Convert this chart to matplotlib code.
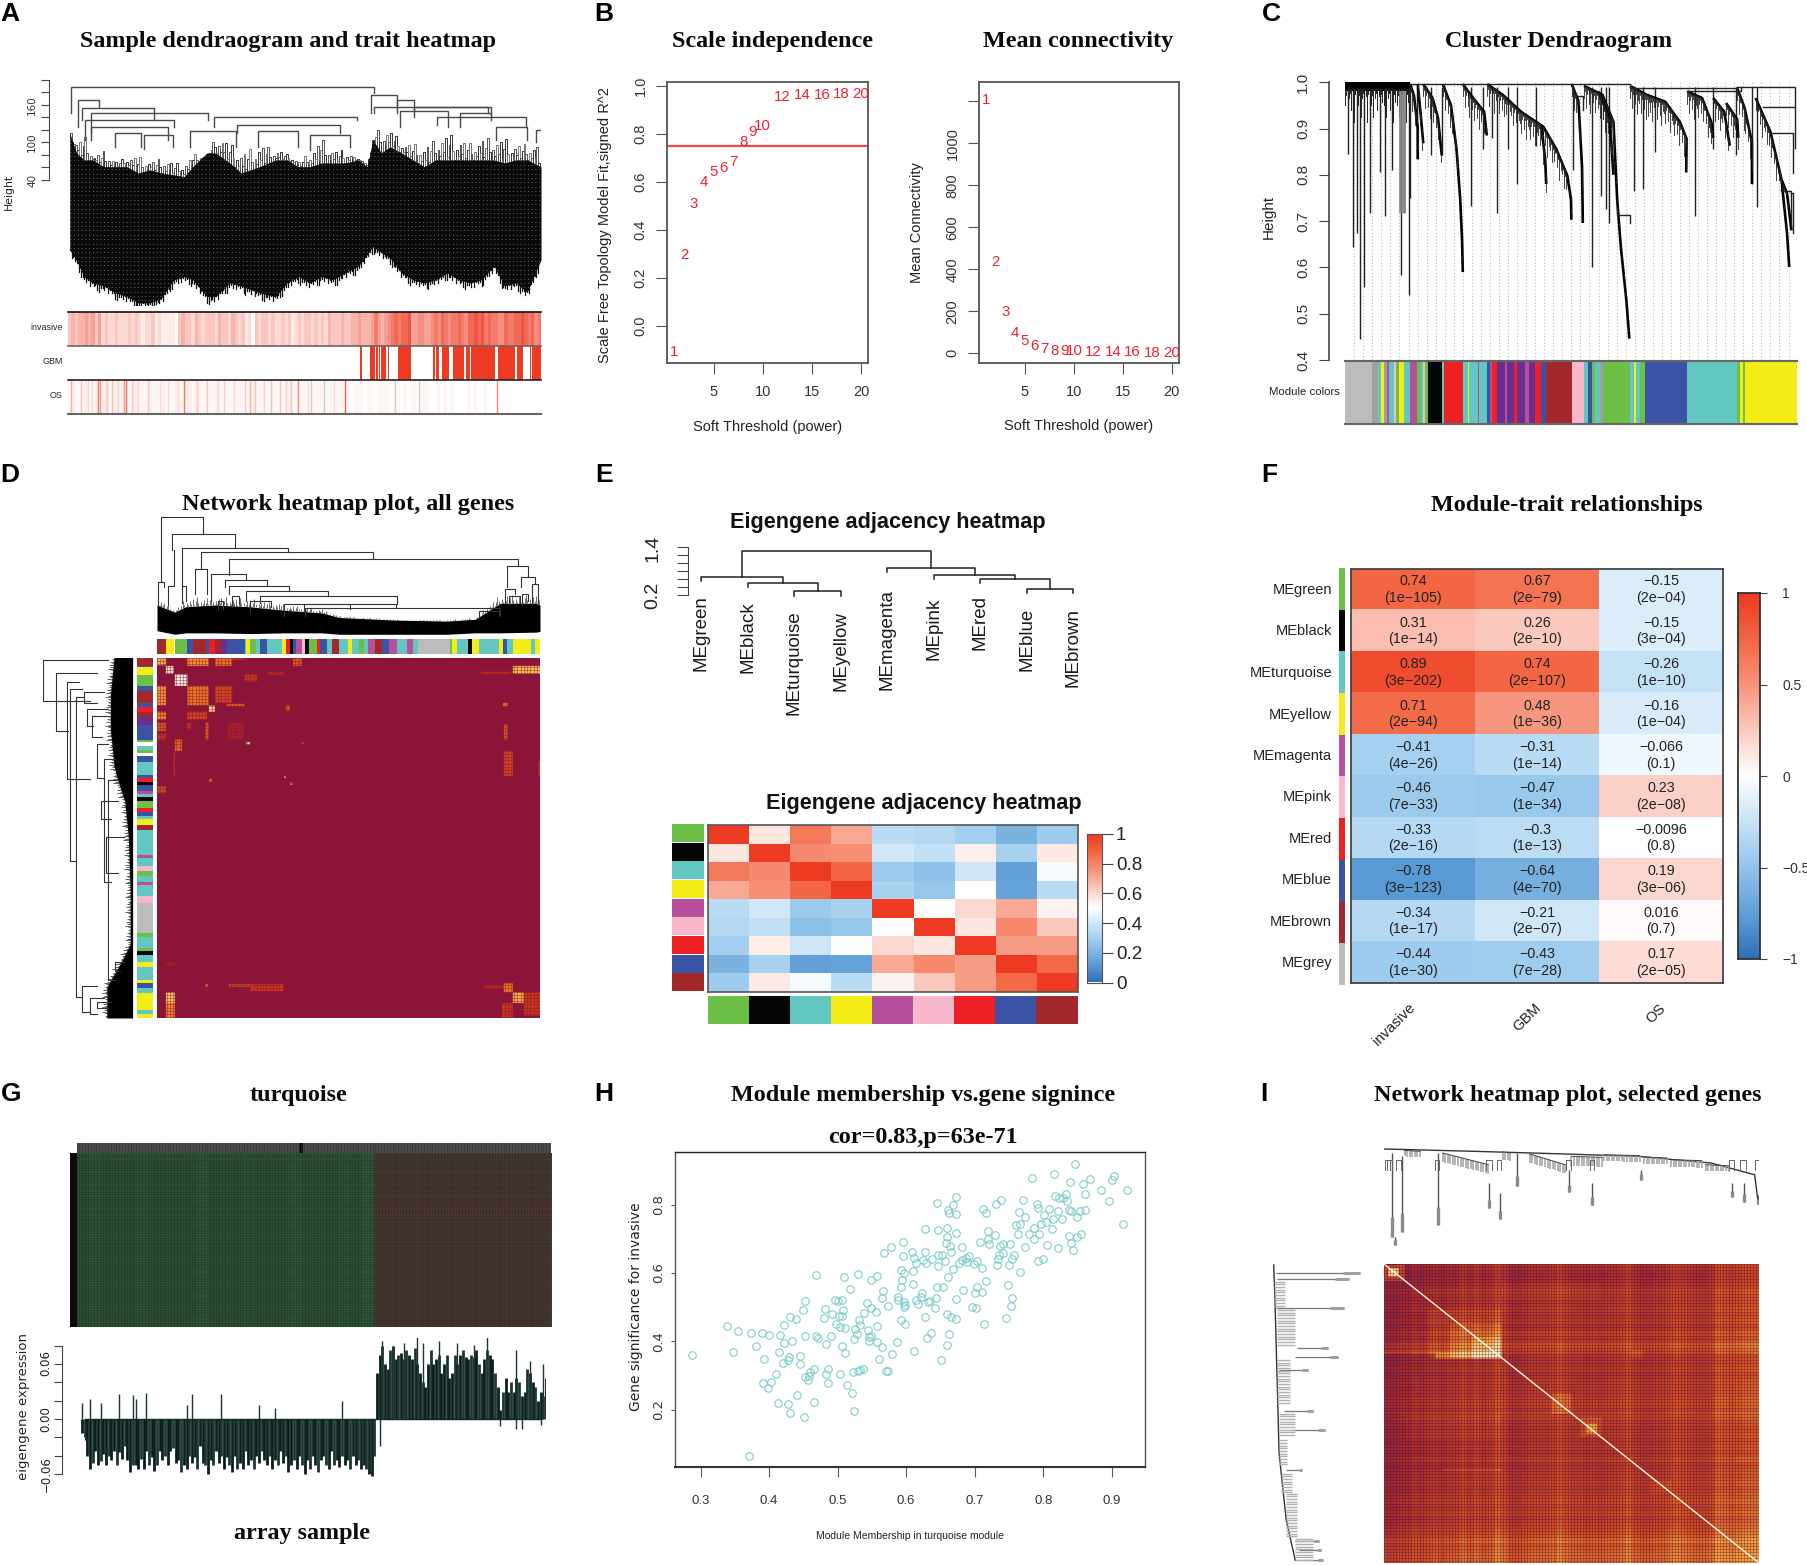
import numpy as np
import matplotlib
matplotlib.use("Agg")
import matplotlib.pyplot as plt
from matplotlib.colors import LinearSegmentedColormap as LSC
from matplotlib.patches import Rectangle

W, H = 1808, 1565
SANS = 'Liberation Sans'
SERIF = 'Liberation Serif'
WIDE = 'DejaVu Sans'
plt.rcParams['font.family'] = SANS
fig = plt.figure(figsize=(W/100, H/100), dpi=100, facecolor='white')

MOD = dict(g='#6cbf47', k='#050505', t='#62c6c1', y='#f4ec16', m='#b7509c', p='#f8b8cc',
           r='#ee2024', b='#3a53a4', n='#a3282b', e='#bcbcbc', d='#a0a0a0', u='#6a2d90', w='#ffffff')
ME = ['MEgreen','MEblack','MEturquoise','MEyellow','MEmagenta','MEpink','MEred','MEblue','MEbrown','MEgrey']
ME_KEY = list('gktymprbne')
BWR = LSC.from_list('bwr', [(0,'#2f6fb8'),(.11,'#5b9bd5'),(.275,'#9dccee'),(.425,'#ddeefb'),(.5,'#ffffff'),
                            (.615,'#fbd0c6'),(.74,'#f8977f'),(.87,'#f36744'),(1,'#ee3a22')])
STRIP = LSC.from_list('st', ['#ffffff', '#ee3a22'])
DGREY = '#444444'
CYCLE = [.0,.35,.15,.55,.25,.7,.1,.45,.8,.3]

def A(x0, y0, x1, y1, off=False):
    ax = fig.add_axes([x0/W, 1-y1/H, (x1-x0)/W, (y1-y0)/H])
    if off:
        ax.axis('off')
    return ax

def T(x, y, s, size=10.5, fam=SANS, weight='normal', rot=0, ha='center', va='center', color='#222222', **kw):
    return fig.text(x/W, 1-y/H, s, fontsize=size, family=fam, weight=weight, rotation=rot, ha=ha, va=va,
                    color=color, rotation_mode='anchor', **kw)

def title(x, y, s, size=17.4):
    T(x, y+1.5, s, size=size, fam=SERIF, weight='bold', color='#0a0a0a')

for s, x, y in [('A',10,14),('B',604,14),('C',1271,14),('D',10,475),('E',604,475),('F',1269,475),
                ('G',11,1094),('H',604,1094),('I',1264,1094)]:
    T(x, y, s, size=19, weight='bold', color='black')

# ---------------------------------------------------------------- A
A_merges = [(2,532,189,147,179),(15,52,168,125,157),(22,147,155,136,136),(37,242,147,115,136),(27,182,136,104,125),
            (252,502,141,125,136),(37,172,125,104,104),(292,472,128,115,115),(532,732,157,147,147),(527,572,175,147,160),
            (572,602,168,147,150),(602,737,157,140,140),(642,797,141,128,125),(682,737,147,125,136),(577,662,150,125,125),
            (80,125,115,93,93),(130,180,112,90,93),(210,290,118,93,93),(330,400,118,93,93),(420,490,112,88,93),(745,800,125,104,104),(825,815,120,100,100)]
A_sample = [0,12,25,40,60,80,100,120,140,160,182,200,215,240,255,280,300,332,360,380,400,420,440,460,482,505,520,530,
            545,560,580,600,620,640,660,680,700,720,742,760,780,800,824]
A_arch_top = [83,104,120,78,93,72,83,83,72,83,72,72,88,72,125,104,93,104,93,83,72,93,115,93,93,72,72,115,
              136,125,104,104,104,115,125,115,104,115,115,115,104,104,104]
A_mass_top = [115,83,72,72,61,61,61,51,56,51,48,45,61,83,83,67,51,61,72,72,61,61,67,67,67,72,61,104,
              83,93,83,72,61,72,72,72,72,72,72,67,72,72,61]
A_mass_bot = [-72,-90,-115,-125,-130,-141,-147,-157,-157,-150,-120,-115,-120,-147,-147,-125,-130,-141,-147,-125,-115,-125,-115,-120,-109,-98,-80,-67,
              -77,-85,-109,-120,-125,-120,-109,-120,-125,-120,-98,-130,-125,-140,-88]
ax = A(68, 78, 541, 306)
ax.set_xlim(-3, 824); ax.set_ylim(-162, 203)
mass = ax.fill_between(A_sample, A_mass_bot, A_mass_top, color='#0a0a0a', lw=0, zorder=2)
mp = mass.get_paths()[0]
for hv in np.arange(-160, 120, 7):
    ln, = ax.plot([0, 824], [hv, hv], color='white', lw=.6, ls=(0, (1, 3.5)), alpha=.5, zorder=2.5)
    ln.set_clip_path(mp, ax.transData)
gx = np.arange(0, 824, 3.2)
gt = np.interp(gx, A_sample, A_mass_top); ga = np.interp(gx, A_sample, A_arch_top); gb = np.interp(gx, A_sample, A_mass_bot)
for k in range(len(gx)-1):
    f = CYCLE[k % 10]
    tp = gt[k]+(ga[k]-gt[k])*f
    ax.plot([gx[k], gx[k], gx[k+1], gx[k+1]], [gt[k]-6, tp, tp, gt[k+1]-6], color=['#555555','#333333','#777777'][k % 3], lw=.7, zorder=1)
    ax.plot([gx[k], gx[k]], [gb[k]+2, gb[k]-14*CYCLE[(k*3) % 10]], color='#111111', lw=.9, zorder=1)
for xl, xr, h, hl, hr in A_merges:
    ax.plot([xl, xl, xr, xr], [hl, h, h, hr], color='#4a4a4a', lw=1.0, zorder=3)
for s in ['top','right','bottom']:
    ax.spines[s].set_visible(False)
ax.spines['left'].set_position(('outward', 13.7)); ax.spines['left'].set_bounds(40, 200); ax.spines['left'].set_color(DGREY)
ax.set_xticks([]); ax.set_yticks(np.arange(40, 201, 20), [''] * 9)
ax.tick_params(axis='y', length=6, color=DGREY)
for v in [40, 100, 160]:
    T(32, 180-(v-40)*.625, str(v), size=7.5, fam=WIDE, rot=90, color='#333333')
T(9, 192, 'Height', size=7.8, fam=WIDE, rot=90)
inv_lv = [3,4,3,4,4,5,4,5,3,5, 2,3,2,2,3,2,2,2,3,2,3,2,1,2,2,3,1,2,1,1,1,1,0, 3,4,3,3,2,4,3,2,3,3,3,2,4,
          3,3,2,4,3,2,3,1,2,0,3,2,3,3,2,3,2, 2,3,2,3,1,2,3,2,3,3,2,3,2,3,2,4,3,3,3,4,3,
          3,4,4,5,4,4,4,5,7,5,4,5,6,7, 8,7,8,8,9,5,5,6,6,5,5,6, 7,6,8,7,6,7,7,8,7,6,8,8,9,8,9,7,8,7,
          7,6,6,8,7,7,8,8,9,8,7,8,6,7]
gbm_on = [(840,842),(878,882),(908,923),(926,930),(933,936),(941,955),(961,963),(991,1031),(1098,1102),(1106,1116),(1125,1146),
          (1158,1191),(1195,1208),(1211,1283),(1291,1343),(1350,1366),(1378,1380),(1388,1390),(1394,1421)]
os_lv = [1,2,1,1,1,2,1,1,2,2,2,3,1,2,2,1,2,2,1,2,2,1,1,1,2,1,1,1,2,1,1,1,2,1,1,2,2,1,2,1,1,1,1,1,2,1,1,1,1,1,1,1,1,1,1,
         2,1,1,2,1,1,1,1,1,1,1,2,1,1,1,1,1,1,1,1,1,1,1,1,1,1,1,1,1,0,1,1,1,0,1,1,0,1,1,1,1,0,1,1,0,1,0,1,1,0,1,1,1,0,0,1,0,1,0,1,0,0,0,0,1,0,
         1,0,0,1,0,0,0,0,0,0,0,0,0,0,0,0,0,0,0,0]
os_spike_x = [8,40,91,95,118,131,168,175,193,240,348,388,418,533,548,563,638,671,691,831,1290,60,72,150,210,275,300,330,450,470,500,590,610,655,720,800]
os_spike_v = [.4,.3,.7,.5,.3,.3,.5,.7,.3,.3,.7,.3,.3,.3,.4,.3,.3,.3,.6,.8,.6,.2,.2,.25,.2,.2,.2,.2,.2,.25,.2,.2,.2,.25,.2,.2]
os_grey_x = [610,730,768,981,1053]
ax = A(68, 312, 541, 346, off=True)
ax.imshow(np.array(inv_lv)[None, :]/10.5, cmap=STRIP, vmin=0, vmax=1, aspect='auto', interpolation='nearest')
ax = A(68, 346, 541, 380, off=True)
ax.set_xlim(0, 1421); ax.set_ylim(0, 1)
ax.broken_barh([(a, b-a) for a, b in gbm_on], (0, 1), color='#ee3a22', lw=0)
ax = A(68, 380, 541, 414, off=True)
ax.imshow(np.array(os_lv)[None, :]/22, cmap=STRIP, vmin=0, vmax=1, aspect='auto', interpolation='nearest',
          extent=(0, 1421, 0, 1))
ax.vlines(os_spike_x, 0, 1, colors=[STRIP(v) for v in os_spike_v], lw=1)
ax.vlines(os_grey_x, 0, 1, colors='#cfcfcf', lw=1)
ax.set_xlim(0, 1421); ax.set_ylim(0, 1)
for y0, lc, lw in [(312,'#111111',1.2),(346,'#666666',1.2),(380,'#222222',1.2),(414,'#666666',1.5)]:
    fig.add_artist(plt.Line2D([68/W, 541/W], [1-y0/H]*2, color=lc, lw=lw))
for y, s in [(328,'invasive'),(362,'GBM'),(396,'OS')]:
    T(63, y, s, size=6.4, ha='right')
title(288, 40, 'Sample dendraogram and trait heatmap')

# ---------------------------------------------------------------- B
powers = [1,2,3,4,5,6,7,8,9,10,12,14,16,18,20]
sft_r2 = [-.11,.296,.508,.597,.639,.657,.684,.765,.805,.83,.951,.96,.96,.967,.967]
mean_k = [1207,436,196,96,57,34,20,12,12,9,5,4,4,3,3]

def rbox(ax):
    for s in ax.spines.values():
        s.set_color('#555555'); s.set_linewidth(1.3)
    ax.tick_params(length=8, color='#555555', labelsize=10.5, labelcolor='#333333', pad=7.5)
    ax.tick_params(axis='y', labelrotation=90, pad=6)
    for l in ax.get_yticklabels():
        l.set_va('center')

ax = A(667, 82, 868, 363)
ax.set_xlim(.26, 20.7); ax.set_ylim(-.154, 1.015)
ax.set_xticks([5,10,15,20]); ax.set_yticks([0,.2,.4,.6,.8,1], ['0.0','0.2','0.4','0.6','0.8','1.0'])
rbox(ax)
ax.axhline(.75, color='#f04a4a', lw=1.6)
for p, v in zip(powers, sft_r2):
    ax.text(p, v, str(p), color='#ee2030', fontsize=10.8, ha='center', va='center')
T(605, 225, 'Scale Free Topology Model Fit,signed R^2', size=10.5, rot=90)
T(768, 427, 'Soft Threshold (power)')
title(773, 40, 'Scale independence')

ax = A(979, 82, 1179, 363)
ax.set_xlim(.3, 20.75); ax.set_ylim(-46, 1292)
ax.set_xticks([5,10,15,20]); ax.set_yticks([0,200,400,600,800,1000,1200], ['0','200','400','600','800','1000',''])
rbox(ax)
for p, v in zip(powers, mean_k):
    ax.text(p, v, str(p), color='#ee2030', fontsize=10.8, ha='center', va='center')
T(917, 223, 'Mean Connectivity', rot=90)
T(1079, 426, 'Soft Threshold (power)')
title(1078, 40, 'Mean connectivity')

# ---------------------------------------------------------------- C
C_curves = [
 [(490,.996),(500,.97),(510,.90),(510,.834)], [(510,.996),(518,.93),(525,.868)],
 [(525,.996),(550,.966),(565,.922),(575,.842)],
 [(578,.996),(600,.95),(615,.856),(625,.747),(630,.659),(632,.59)],
 [(632,.996),(660,.966),(690,.936),(697,.885)],
 [(698,.996),(740,.973),(790,.936),(850,.904),(885,.856),(915,.798),(925,.747),(926,.703)],
 [(845,.904),(855,.834),(858,.78)], [(927,.996),(945,.96),(955,.816),(957,.696)],
 [(960,.992),(1010,.973),(1040,.914),(1050,.747),(1060,.644),(1075,.528),(1083,.446)],
 [(1000,.98),(1030,.92),(1040,.80)],
 [(1085,.992),(1130,.973),(1180,.958),(1220,.914),(1238,.878),(1237,.805)],
 [(1240,.98),(1280,.966),(1305,.914),(1310,.88)], [(1310,.966),(1340,.936),(1355,.863)],
 [(1345,.955),(1375,.92),(1378,.88)], [(1375,.987),(1395,.945),(1415,.87),(1415,.78)],
 [(1425,.966),(1465,.893),(1495,.79),(1510,.674),(1516,.601)], [(1495,.79),(1510,.76),(1522,.68)]]
C_fringe_len = [.035,.012,.06,.02,.008,.045,.015,.07,.01,.028]
C_drop_x = [320,335,345,354,365,382,407,422,440,466,472,485,490,508,547,575,655,686,725,778,712,755,830,930,982,1005,1020,1028,1095,1120,1153,1260,1310,1372,1415,1430]
C_drop_h = [.846,.644,.674,.446,.558,.717,.806,.71,.81,.583,.717,.54,.75,.834,.842,.842,.733,.856,.717,.78,.88,.856,.862,.81,.601,.755,.727,.696,.765,.77,.85,.71,.855,.842,.78,.73]
C_conn = [(490,1085,.996,.996,.996),(1085,1375,.987,.99,.99),(1240,1385,.98,.98,.99),(1445,1532,.947,.947,.857),(1470,1525,.89,.89,.805),
          (1050,1085,.714,.73,.696),(1375,1532,.99,.99,.947),(1495,1520,.765,.77,.69),(1520,1525,.76,.76,.675),(940,958,.97,.97,.94)]
C_seg = [(313,385,'e'),(385,402,'d'),(402,410,'t'),(410,418,'y'),(418,426,'d'),(426,432,'m'),(432,445,'t'),(445,452,'p'),(452,460,'g'),(460,472,'y'),(472,490,'t'),
         (490,508,'m'),(508,518,'g'),(518,524,'t'),(524,530,'p'),(530,537,'g'),(537,577,'k'),(577,582,'t'),(582,632,'r'),
         (632,645,'t'),(645,650,'y'),(650,672,'t'),(672,677,'m'),(677,698,'t'),(698,705,'b'),(705,712,'m'),(712,725,'r'),(725,745,'u'),(745,752,'m'),(752,770,'u'),(770,780,'r'),
         (780,800,'u'),(800,812,'m'),(812,828,'u'),(828,845,'r'),(845,858,'b'),(858,927,'n'),(927,960,'p'),(960,972,'t'),(972,982,'b'),(982,990,'g'),(990,1004,'t'),(1004,1012,'d'),
         (1012,1085,'g'),(1085,1095,'t'),(1095,1102,'y'),(1102,1112,'t'),(1112,1126,'g'),(1126,1240,'b'),(1240,1375,'t'),(1375,1383,'g'),(1383,1390,'y'),(1390,1397,'g'),(1397,1537,'y')]
ax = A(1345, 79, 1797, 360)
ax.set_xlim(313, 1537); ax.set_ylim(.4, 1.007)
ax.vlines(np.arange(338, 1537, 24.5), .4, 1, color='#bbbbbb', lw=.8, linestyles=(0, (1, 2)), zorder=0)
ax.fill_between([313, 490], .981, 1, color='black', lw=0)
for i, xx in enumerate(np.arange(313, 490, 3.5)):
    ax.plot([xx, xx], [.985, .985-C_fringe_len[i % 10]], color='#222222', lw=.7)
ax.vlines(C_drop_x, C_drop_h, .99, color='#222222', lw=1.0)
ax.vlines([463, 466, 469, 472, 475], .717, .98, color='#888888', lw=1.2)
for c in C_curves:
    xs, hs = zip(*c)
    ax.plot(xs, hs, color='black', lw=1.9, solid_capstyle='butt')
    for k in range(len(xs)-1):
        n = max(2, int(abs(xs[k+1]-xs[k])/2.5))
        for j in range(n):
            f = j/n
            xx = xs[k]+(xs[k+1]-xs[k])*f
            yy = hs[k]+(hs[k+1]-hs[k])*f
            ax.plot([xx, xx], [yy, yy-C_fringe_len[(j+k) % 10]*(.75 if yy > .8 else .15)], color='#222222', lw=.6)
for xl, xr, h, hl, hr in C_conn:
    ax.plot([xl, xl, xr, xr], [hl, h, h, hr], color='#222222', lw=1.0)
ax.set_xticks([]); ax.set_yticks(np.arange(.4, 1.01, .1), ['0.4','0.5','0.6','0.7','0.8','0.9','1.0'])
for s in ['top','right','bottom']:
    ax.spines[s].set_visible(False)
ax.spines['left'].set_position(('outward', 11.5)); ax.spines['left'].set_bounds(.4, 1); ax.spines['left'].set_color(DGREY)
ax.spines['left'].set_linewidth(1.2)
ax.tick_params(axis='y', length=7, color=DGREY, labelsize=11, labelrotation=90, labelcolor='#333333', pad=6.5)
for l in ax.get_yticklabels():
    l.set_va('center')
T(1269, 217, 'Height', size=11, rot=90)
ax = A(1345, 361, 1797, 424, off=True)
ax.set_xlim(313, 1537); ax.set_ylim(0, 1)
for a, b, k in C_seg:
    ax.add_patch(Rectangle((a, 0), b-a, 1, color=MOD[k], lw=0))
fig.add_artist(plt.Line2D([1345/W, 1797/W], [1-361/H]*2, color='#666666', lw=1.5))
fig.add_artist(plt.Line2D([1345/W, 1797/W], [1-424/H]*2, color='#666666', lw=1.5))
T(1340, 392, 'Module colors', size=8.2, ha='right')
title(1559, 40, 'Cluster Dendraogram')

# ---------------------------------------------------------------- D
D_top_seg = [(440,465,'n'),(465,487,'y'),(487,490,'w'),(490,525,'g'),(525,540,'b'),(540,577,'n'),(577,585,'b'),(585,602,'r'),(602,620,'n'),(620,637,'u'),(637,685,'b'),(685,690,'t'),
 (690,700,'y'),(700,718,'g'),(718,728,'t'),(728,747,'b'),(747,790,'t'),(790,800,'y'),(800,812,'r'),(812,820,'k'),(820,830,'b'),(830,845,'m'),(845,855,'p'),(855,865,'k'),(865,888,'g'),
 (888,897,'r'),(897,915,'b'),(915,928,'t'),(928,950,'n'),(950,975,'t'),(975,985,'y'),(985,1005,'t'),(1005,1020,'g'),(1020,1030,'t'),(1030,1050,'m'),(1050,1070,'n'),(1070,1090,'b'),
 (1090,1110,'m'),(1110,1140,'t'),(1140,1155,'m'),(1155,1170,'t'),(1170,1258,'e'),(1258,1265,'g'),(1265,1280,'y'),(1280,1310,'t'),(1310,1320,'k'),(1320,1340,'y'),(1340,1395,'t'),
 (1395,1408,'y'),(1408,1420,'b'),(1420,1435,'t'),(1435,1487,'y'),(1487,1497,'t'),(1497,1511,'y')]
D_left_seg = [(497,520,'n'),(520,525,'b'),(525,545,'y'),(545,578,'g'),(578,592,'b'),(592,625,'n'),(625,635,'b'),(635,650,'r'),(650,665,'n'),(665,685,'u'),(685,728,'b'),(728,735,'g'),
 (735,745,'w'),(745,755,'t'),(755,765,'g'),(765,772,'w'),(772,790,'b'),(790,825,'t'),(825,835,'b'),(835,847,'r'),(847,855,'k'),(855,870,'b'),(870,880,'m'),(880,887,'t'),(887,900,'k'),
 (900,920,'g'),(920,930,'r'),(930,940,'b'),(940,950,'t'),(950,965,'y'),(965,980,'n'),(980,1050,'t'),(1050,1060,'m'),(1060,1080,'t'),(1080,1095,'p'),(1095,1110,'g'),(1110,1125,'t'),
 (1125,1135,'m'),(1135,1165,'t'),(1165,1185,'p'),(1185,1270,'e'),(1270,1280,'g'),(1280,1310,'t'),(1310,1320,'g'),(1320,1330,'k'),(1330,1350,'t'),(1350,1365,'y'),(1365,1400,'t'),
 (1400,1410,'y'),(1410,1422,'b'),(1422,1437,'t'),(1437,1485,'y'),(1485,1495,'t'),(1495,1507,'y')]
D_blocks = [(440,465,497,520,.7),(525,585,497,522,.6),(602,650,497,522,.5),(650,685,497,505,.3),(820,845,497,522,.4),
 (465,487,522,543,.95),(490,525,545,578,1.),(1435,1511,522,543,.75),(1345,1430,538,545,.25),(685,720,545,565,.3),(750,795,540,548,.25),
 (440,465,578,632,.6),(525,585,578,632,.5),(602,650,578,625,.35),(635,685,628,635,.4),(585,602,633,650,.85),(800,812,632,647,.4),(1408,1420,625,635,.5),
 (440,465,650,672,.55),(440,465,680,705,.4),(440,465,712,728,.3),(525,580,650,672,.35),(525,535,680,700,.3),(575,585,680,728,.4),(637,683,680,728,.15),
 (490,510,728,760,.45),(486,490,760,830,.3),(1410,1420,685,728,.4),(1410,1435,760,830,.35),(690,700,735,742,.9),(586,594,838,846,.5),(795,800,830,835,.9),
 (812,820,848,855,.5),(440,465,858,878,.35),(845,850,735,742,.4),(1505,1511,790,830,.25),(465,490,1350,1360,.15),(465,490,1435,1465,.8),(465,490,1465,1507,.55),
 (1435,1465,1435,1465,.7),(1465,1511,1435,1500,.3),(1410,1435,1410,1435,.5),(640,700,1412,1420,.35),(700,795,1412,1432,.3),(575,582,1412,1420,.5),(1355,1410,1415,1425,.25),(1405,1435,1465,1507,.3)]
D_cmap = LSC.from_list('d', [(0,'#8b1538'),(.25,'#c0281d'),(.5,'#f0791e'),(.75,'#fdc64f'),(1,'#fffbe0')])
mat = np.zeros((1010, 1071))
for x0, x1, y0, y1, v in D_blocks:
    mat[y0-497:y1-497, x0-440:x1-440] = np.maximum(mat[y0-497:y1-497, x0-440:x1-440], v)
ax = A(157, 657.5, 540, 1018, off=True)
ax.imshow(mat, cmap=D_cmap, vmin=0, vmax=1, aspect='auto', interpolation='antialiased', extent=(440, 1511, 1507, 497))
ax.vlines(np.arange(440, 1511, 9), 497, 1507, color='#8b1538', lw=.8, alpha=.45)
ax.hlines(np.arange(497, 1507, 9), 440, 1511, color='#8b1538', lw=.8, alpha=.45)
ax.set_xlim(440, 1511); ax.set_ylim(1507, 497)
ax = A(157, 639, 540, 654, off=True)
ax.set_xlim(440, 1511); ax.set_ylim(0, 1)
for a, b, k in D_top_seg:
    ax.add_patch(Rectangle((a, 0), b-a, 1, color=MOD[k], lw=0))
ax = A(137.5, 657.5, 153, 1018, off=True)
ax.set_ylim(1507, 497); ax.set_xlim(0, 1)
for a, b, k in D_left_seg:
    ax.add_patch(Rectangle((0, a), 1, b-a, color=MOD[k], lw=0))
D_top_merges = [(452,570,104,285,150),(483,658,150,195,190),(510,805,190,300,202),(562,1045,202,250,222),(640,1449,222,265,242),(545,580,250,320,320),(592,690,262,340,280),
 (630,748,280,300,295),(640,808,296,320,312),(690,918,312,340,325),(728,1110,324,345,348),(795,1108,348,380,355),(850,980,348,370,362),(855,1400,358,380,380),(1340,1395,368,385,378),
 (1418,1478,242,300,272),(1458,1498,272,300,290),(1412,1440,305,345,320),(443,460,285,350,300),(470,487,298,350,195),(510,520,298,345,340),(610,625,340,365,360),(650,670,325,355,345),(700,760,340,370,355),
 (1462,1478,320,350,340),(1490,1505,292,350,345),(1425,1455,325,350,345)]
D_top_x = [440,490,520,600,700,800,900,950,1100,1250,1330,1400,1500,1511]
D_top_env = [350,370,355,350,355,365,372,385,392,395,390,345,345,350]
D_top_bot = [422,432,428,428,430,428,428,432,432,432,428,428,426,424]
ax = A(157, 515.7, 540, 635, off=True)
ax.set_xlim(440, 1511); ax.set_ylim(434, 100)
ax.fill_between(D_top_x, D_top_bot, D_top_env, color='black', lw=0)
dx = np.arange(440, 1511, 4)
de = np.interp(dx, D_top_x, D_top_env)
ax.vlines(dx, de, de-np.array([CYCLE[i % 10] for i in range(len(dx))])*np.interp(dx, D_top_x, [30,8,30,30,28,22,14,6,3,3,6,30,30,28]), color='#333333', lw=.5)
for xl, xr, h, hl, hr in D_top_merges:
    ax.plot([xl, xl, xr, xr], [hl, h, h, hr], color='#333333', lw=.8)
D_left_merges = [(505,620,120,300,250),(540,703,157,270,190),(565,838,188,220,250),(585,1068,195,230,210),(608,1448,212,235,225),(595,625,233,290,270),(640,690,243,300,260),(660,720,258,300,285),
 (738,835,270,300,290),(780,1125,290,320,310),(840,1400,300,330,320),(1350,1375,320,345,335),(1418,1490,228,270,250),(1450,1495,252,290,270),(1462,1480,270,310,300),(900,950,283,330,310),(1000,1100,295,345,330)]
D_left_y = [497,600,700,800,840,900,1000,1150,1300,1350,1420,1507]
D_left_env = [300,290,290,300,310,330,340,345,345,320,280,280]
ax = A(43, 657.5, 133, 1018, off=True)
ax.set_ylim(1507, 497); ax.set_xlim(120, 371)
ax.fill_betweenx(D_left_y, [e+18 for e in D_left_env], 370, color='black', lw=0)
dy = np.arange(497, 1507, 4)
dl = np.interp(dy, D_left_y, D_left_env)
ax.hlines(dy, dl+18-np.array([CYCLE[i % 10] for i in range(len(dy))])*18, dl+20, color='#222222', lw=.5)
for yt, yb, x, xt, xb in D_left_merges:
    ax.plot([xt, x, x, xb], [yt, yt, yb, yb], color='#333333', lw=.8)
title(348, 503, 'Network heatmap plot, all genes')

# ---------------------------------------------------------------- E
leaf_order = list('gktymprbn')
E_labels = ME[:9]
E_label_y = [.2,.04,-.18,-.2,.34,.14,.2,-.12,-.12]
E_tree = [(2,3,.30,.18,.18),(1,2.5,.49,.39,.30),(0,1.75,.64,.54,.49),(7,8,.35,.25,.25),(6,7.5,.59,.49,.35),(5,6.75,.71,.61,.59),(4,5.875,.87,.77,.71),(.875,4.9375,1.29,.64,.87)]
ax = A(701.4, 547, 1073.5, 595)
ax.set_xlim(0, 8); ax.set_ylim(.2, 1.4)
for xl, xr, h, hl, hr in E_tree:
    ax.plot([xl, xl, xr, xr], [hl, h, h, hr], color='#222222', lw=1.1, clip_on=False)
ax.spines[['top','right','bottom']].set_visible(False)
ax.spines['left'].set_position(('outward', 9.6)); ax.spines['left'].set_color(DGREY)
ax.spines['left'].set_bounds(.2, 1.4)
ax.set_xticks([]); ax.set_yticks(np.arange(.2, 1.41, .2), ['']*7)
ax.tick_params(axis='y', length=8, color=DGREY)
T(653, 595, '0.2', size=14, rot=90); T(653, 548, '1.4', size=14, rot=90)
for i, s in enumerate(E_labels):
    ax.text(i, E_label_y[i], s, rotation=90, ha='center', va='top', fontsize=13.5, color='#1a1a1a', clip_on=False)
T(888, 523, 'Eigengene adjacency heatmap', size=15.6, weight='bold', color='#111111')
E_adj = np.array([[1,.56,.82,.70,.34,.33,.29,.19,.28],
                  [.56,1,.77,.76,.40,.36,.54,.30,.55],
                  [.82,.77,1,.87,.27,.24,.39,.13,.48],
                  [.70,.76,.87,1,.30,.26,.50,.14,.34],
                  [.34,.40,.27,.30,1,.50,.59,.70,.53],
                  [.33,.36,.24,.26,.50,1,.56,.78,.63],
                  [.29,.54,.39,.50,.59,.56,1,.73,.73],
                  [.19,.30,.13,.14,.70,.78,.73,1,.86],
                  [.28,.55,.48,.34,.53,.63,.73,.86,1]])
ax = A(708, 825, 1077.5, 992)
ax.imshow(E_adj, cmap=BWR, vmin=0, vmax=1, aspect='auto', interpolation='nearest')
ax.set_xticks([]); ax.set_yticks([])
for s in ax.spines.values():
    s.set_color('#555555'); s.set_linewidth(1.2)
ax = A(672, 824, 704, 992, off=True)
ax.set_xlim(0, 1); ax.set_ylim(9, 0)
for i, k in enumerate(leaf_order):
    ax.add_patch(Rectangle((0, i), 1, .97, color=MOD[k], lw=0))
ax = A(708, 996, 1077.5, 1023.6, off=True)
ax.set_xlim(0, 9); ax.set_ylim(0, 1)
for i, k in enumerate(leaf_order):
    ax.add_patch(Rectangle((i, 0), 1, 1, color=MOD[k], lw=0))
cax = A(1087, 834, 1102, 982.5)
cax.imshow(np.linspace(1, 0, 256)[:, None], cmap=BWR, aspect='auto', extent=(0, 1, 0, 1))
cax.set_xticks([]); cax.yaxis.tick_right()
cax.set_yticks([0,.2,.4,.6,.8,1], ['0','0.2','0.4','0.6','0.8','1'])
cax.tick_params(axis='y', length=8, labelsize=13.5, color=DGREY, labelcolor='#222222', pad=2)
for s in cax.spines.values():
    s.set_color('#555555')
T(923.6, 803, 'Eigengene adjacency heatmap', size=15.6, weight='bold', color='#111111')

# ---------------------------------------------------------------- F
F_cor = np.array([[.74,.67,-.15],[.31,.26,-.15],[.89,.74,-.26],[.71,.48,-.16],[-.41,-.31,-.066],
                  [-.46,-.47,.23],[-.33,-.3,-.0096],[-.78,-.64,.19],[-.34,-.21,.016],[-.44,-.43,.17]])
F_pval = [['1e\u2212105','2e\u221279','2e\u221204'],['1e\u221214','2e\u221210','3e\u221204'],['3e\u2212202','2e\u2212107','1e\u221210'],
          ['2e\u221294','1e\u221236','1e\u221204'],['4e\u221226','1e\u221214','0.1'],['7e\u221233','1e\u221234','2e\u221208'],
          ['2e\u221216','1e\u221213','0.8'],['3e\u2212123','4e\u221270','3e\u221206'],['1e\u221217','2e\u221207','0.7'],['1e\u221230','7e\u221228','2e\u221205']]
ax = A(1351, 569, 1723, 983)
ax.imshow(F_cor, cmap=BWR, vmin=-1, vmax=1, aspect='auto', interpolation='nearest')
for s in ax.spines.values():
    s.set_color('#444444'); s.set_linewidth(1.3)
ax.set_xticks([]); ax.set_yticks([])
for r in range(10):
    for c in range(3):
        v = F_cor[r, c]
        ax.text(c, r, f"{str(v).replace('-', chr(0x2212))}\n({F_pval[r][c]})", ha='center', va='center', fontsize=10.3, color='#222222', linespacing=1.25)
ax = A(1339, 568, 1345, 985, off=True)
ax.set_xlim(0, 1); ax.set_ylim(10, 0)
for i, k in enumerate(ME_KEY):
    ax.add_patch(Rectangle((0, i), 1, 1, color=MOD[k], lw=0))
for i, s in enumerate(ME):
    T(1332, 590+i*41.5, s, size=10.5, ha='right')
for x, s in [(1408,'invasive'),(1534,'GBM'),(1658,'OS')]:
    T(x, 1001, s, size=10.5, rot=45, ha='right', va='top')
cax = A(1738, 593, 1760, 959)
cax.imshow(np.linspace(1, -1, 256)[:, None], cmap=BWR, vmin=-1, vmax=1, aspect='auto', extent=(0, 1, -1, 1))
cax.set_xticks([]); cax.yaxis.tick_right()
cax.set_yticks([-1,-.5,0,.5,1], ['\u22121','\u22120.5','0','0.5','1'])
cax.tick_params(axis='y', length=5, labelsize=10, color=DGREY, labelcolor='#333333', pad=11)
for s in cax.spines.values():
    s.set_color('#333333'); s.set_linewidth(1.3)
title(1567, 504, 'Module-trait relationships')

# ---------------------------------------------------------------- G
G_row = [.1,.1,.2,.1,.3,.2,.1,.2,.4,.5,.4,.2,.3,.2,.1,.3,.2,.3,.4,.3,.1,.3,.4,.2,.3,.2,.3,.2]
G_col_green = [.1,.4,.1,.2,.1,.3,.1,.2,.1,.1,.5,.1,.2,.1,.3,.1,.1,.2,.4,.1,.2,.1,.3,.1,.6]
ax = A(76.5, 1153, 551, 1327, off=True)
img = np.zeros((len(G_row), 40, 3))
green = np.array([.17,.31,.20]); gr2 = np.array([.19,.38,.24])
brown = np.array([.27,.22,.19]); br2 = np.array([.34,.20,.19])
for r, rv in enumerate(G_row):
    for c in range(40):
        if c < 25:
            img[r, c] = green+(gr2-green)*G_col_green[c]
        else:
            img[r, c] = brown+(br2-brown)*rv
ax.imshow(img, aspect='auto', interpolation='nearest', extent=(0, 40, 0, 28))
ax.vlines(np.arange(0, 40, .25), 0, 28, color='#1c2a1c', lw=.5, alpha=.4)
ax.hlines(np.arange(0, 28, .35), 0, 40, color='#222222', lw=.5, alpha=.4)
ax.set_xlim(0, 40); ax.set_ylim(0, 28)
fig.add_artist(Rectangle((70.4/W, 1-1327/H), 6.1/W, 174/H, color='#0b0b0b', lw=0))
ax = A(76.5, 1143, 551, 1153, off=True)
ax.set_xlim(0, 1); ax.set_ylim(0, 1)
ax.add_patch(Rectangle((0, 0), 1, 1, color='#4b4b4b', lw=0))
ax.vlines(np.arange(0, 1, .006), 0, 1, color='#333333', lw=.6, alpha=.7)
ax.add_patch(Rectangle((.468, 0), .009, 1, color='#0a0a0a', lw=0))
G_neg = [-0.015,-0.02,-0.04,-0.055,-0.048,-0.035,-0.05,-0.046,-0.038,-0.05,-0.04,-0.045,-0.035,-0.05,-0.036,-0.044,-0.03,-0.045,-0.058,-0.05,
 -0.05,-0.055,-0.044,-0.055,-0.035,-0.05,-0.042,-0.057,-0.05,-0.035,-0.045,-0.04,-0.05,-0.035,-0.032,-0.048,-0.045,-0.058,-0.05,-0.055,
 -0.04,-0.048,-0.042,-0.055,-0.03,-0.048,-0.05,-0.06,-0.045,-0.05,-0.035,-0.048,-0.04,-0.055,-0.042,-0.05,-0.058,-0.04,-0.055,-0.048,
 -0.055,-0.035,-0.05,-0.045,-0.055,-0.04,-0.048,-0.035,-0.045,-0.05,-0.04,-0.055,-0.045,-0.05,-0.035,-0.048,-0.04,-0.058,-0.05,-0.045,
 -0.055,-0.04,-0.05,-0.06,-0.045,-0.055,-0.04,-0.05,-0.058,-0.045,-0.04,-0.05,-0.055,-0.035,-0.05,-0.045,-0.052,-0.04,-0.05,-0.045,
 -0.055,-0.04,-0.05,-0.045,-0.055,-0.05,-0.055,-0.06,-0.062,-0.04]
G_pos = [.05,.07,.08,.06,.055,.075,.08,.065,.07,.072,.065,.075,.07,.065,.078,.06,.05,.04,.035,.06,.075,.06,.065,.07,.05,.06,.07,.045,.05,.07,.06,.07,
 .075,.068,.065,.07,.068,.075,.06,.05,.065,.075,.07,.065,.05,.035,.01,.03,.045,.03,.04,.03,.045,.04,.025,.03,.055,.05,.04,.035,.02,.03,.025,.045]
G_spike_i = [0,3,7,14,19,20,24,39,41,52,66,72,97,112,116,120,125,127,133,140,146,151,162,167,172]
G_spike_v = [.018,.022,.018,.027,.026,.022,.028,.015,.027,.027,.015,.012,.02,.085,.08,.083,.094,.083,.085,.083,.081,.092,.075,.063,.06]
G_dip_i = [1,111,156,162,164,171]
G_dip_v = [-.023,-.03,-.008,-.011,-.011,-.007]
ax = A(80, 1338, 546, 1477)
ax.set_xlim(-.7, 173)
ax.set_ylim((1419-1477)/18.33*.02, (1419-1338)/18.33*.02)
G_vals = np.array(G_neg+G_pos)
ax.vlines(np.arange(len(G_vals)), 0, G_vals, color=['#0b1f1d', '#1c3533', '#0b1f1d'] * 58, lw=2.0)
ax.vlines(G_spike_i, 0, G_spike_v, color='#1b3533', lw=1.0)
ax.vlines(G_dip_i, 0, G_dip_v, color='#1b3533', lw=1.0)
ax.axhline(0, color='#0d2724', lw=1, xmin=.01, xmax=.99)
ax.spines[['top','right','bottom']].set_visible(False)
ax.spines['left'].set_position(('outward', 13)); ax.spines['left'].set_bounds(-.06, .08); ax.spines['left'].set_color(DGREY)
ax.set_xticks([]); ax.set_yticks(np.arange(-.06, .081, .02), ['']*8)
ax.tick_params(axis='y', length=5.5, color=DGREY)
T(46, 1363, '0.06', size=8.5, fam=WIDE, rot=90); T(46, 1419, '0.00', size=8.5, fam=WIDE, rot=90); T(46, 1474, '\u22120.06', size=8.5, fam=WIDE, rot=90)
tx = T(24, 1480, 'eigengene expression', size=9.5, fam=WIDE, rot=90, ha='left')
tx.set_clip_on(True); tx.set_clip_box(matplotlib.transforms.Bbox([[0, 1-1480/H], [1, 1-1333/H]]).transformed(fig.transFigure))
title(298, 1094, 'turquoise')
title(302, 1532, 'array sample')

# ---------------------------------------------------------------- H
MM = [.287,.339,.347,.354,.370,.374,.381,.389,.393,.391,.400,.399,.403,.410,.413,.414,.416,.421,.422,.420,.427,.427,.429,.431,.430,.434,.439,.440,.445,.445,.449,.452,.452,.451,.452,.458,.457,.459,.466,.466,
 .469,.469,.471,.480,.482,.483,.483,.486,.486,.490,.492,.496,.498,.501,.502,.503,.503,.506,.507,.507,.509,.508,.511,.510,.514,.518,.521,.522,.524,.524,.526,.528,.529,.529,.533,.537,.531,.532,.538,.543,
 .545,.546,.546,.549,.549,.549,.556,.557,.558,.558,.560,.564,.565,.566,.567,.570,.574,.573,.578,.579,.587,.588,.588,.592,.593,.593,.594,.596,.596,.597,.597,.597,.599,.599,.612,.609,.610,.610,.612,.614,
 .614,.617,.621,.623,.624,.628,.628,.629,.628,.630,.632,.635,.636,.638,.642,.644,.645,.645,.646,.646,.647,.651,.653,.654,.656,.658,.659,.660,.659,.661,.660,.661,.663,.663,.664,.665,.666,.669,.669,.672,
 .672,.672,.672,.673,.677,.681,.681,.683,.688,.691,.689,.696,.699,.702,.700,.703,.704,.708,.710,.710,.712,.714,.716,.717,.720,.720,.721,.729,.731,.733,.734,.736,.737,.739,.741,.742,.746,.748,.750,.751,
 .753,.755,.755,.758,.761,.763,.764,.766,.766,.770,.773,.774,.779,.784,.786,.787,.791,.792,.793,.794,.797,.800,.801,.804,.806,.808,.813,.815,.816,.817,.822,.822,.823,.827,.829,.833,.835,.837,.838,.839,
 .841,.841,.844,.846,.849,.850,.853,.855,.858,.861,.861,.868,.884,.896,.901,.903,.916,.923]
GS = [.361,.446,.368,.429,.065,.424,.385,.423,.348,.277,.419,.264,.282,.304,.219,.368,.418,.394,.449,.337,.344,.216,.355,.191,.472,.400,.466,.243,.358,.333,.493,.519,.416,.177,.294,.299,.287,.309,.318,.222,
 .595,.416,.411,.467,.494,.391,.304,.318,.279,.415,.479,.522,.450,.517,.474,.443,.303,.474,.520,.386,.589,.491,.438,.365,.271,.553,.250,.311,.197,.407,.435,.420,.314,.596,.317,.319,.462,.447,.484,.512,
 .433,.413,.402,.579,.497,.415,.486,.591,.397,.445,.347,.384,.526,.546,.658,.313,.314,.503,.675,.363,.399,.530,.521,.608,.462,.559,.579,.691,.650,.600,.516,.501,.506,.450,.372,.662,.606,.567,.643,.630,
 .521,.509,.530,.540,.637,.728,.662,.630,.472,.411,.514,.519,.423,.642,.496,.527,.805,.559,.727,.652,.621,.345,.652,.558,.634,.689,.731,.704,.389,.587,.480,.785,.774,.421,.679,.660,.470,.613,.800,.822,
 .772,.718,.523,.464,.628,.676,.639,.550,.644,.650,.631,.501,.626,.497,.540,.558,.634,.690,.545,.614,.788,.450,.774,.576,.722,.698,.686,.711,.801,.623,.642,.652,.678,.813,.686,.659,.467,.565,.623,.686,
 .503,.528,.642,.652,.741,.713,.777,.603,.744,.813,.764,.676,.713,.878,.733,.699,.803,.635,.790,.715,.744,.642,.769,.749,.681,.786,.728,.759,.890,.825,.672,.781,.820,.757,.818,.830,.811,.785,.707,.865,
 .781,.688,.667,.918,.704,.764,.781,.714,.859,.830,.783,.875,.842,.811,.871,.885,.743,.843]
ax = A(674.6, 1152, 1144.6, 1467)
ax.set_xlim(.262, .948); ax.set_ylim(.032, .954)
ax.plot(MM, GS, 'o', mfc='none', mec='#7fcdc9', ms=5.4, mew=.8)
for s in ax.spines.values():
    s.set_color('#555555'); s.set_linewidth(1.0)
ax.spines['bottom'].set_color('#333333'); ax.spines['bottom'].set_linewidth(1.5)
ax.spines['top'].set_color('#222222')
ax.set_xticks([.3,.4,.5,.6,.7,.8,.9]); ax.set_yticks([.2,.4,.6,.8])
ax.tick_params(length=7, color='#555555', labelsize=9.5, labelcolor='#333333', pad=13)
ax.tick_params(axis='y', labelrotation=90, pad=4, length=3, labelsize=9.5)
for l in ax.get_yticklabels():
    l.set_va('center'); l.set_family(WIDE)
T(636, 1307, 'Gene significance for invasive', size=10, fam=WIDE, rot=90)
T(910, 1536, 'Module Membership in turquoise module', size=7.5)
title(923, 1094, 'Module membership vs.gene signince')
title(923, 1136, 'cor=0.83,p=63e-71')

# ---------------------------------------------------------------- I
I_col = [.05,.05,.1,.1,.2,.15,.2,.25,.2,.25,.25,.35,.25,.35,.25,.3,.45,.35,.2,.2,.25,.3,.3,.3,.35,.45,.35,.3,.3,.25,.3,.25,.3,.3,.35,.45,.3,.25,.25,.3,.3,.4,.45,.4,.35,.3,.3,.35,.55,.5,.45,.5,.55,.55]
I_row = [.15,.1,.1,.15,.25,.2,.2,.25,.2,.25,.2,.3,.25,.4,.35,.2,.2,.25,.2,.25,.25,.25,.3,.3,.25,.3,.25,.2,.25,.2,.25,.2,.3,.2,.25,.25,.3,.25,.3,.35,.3,.35,.3,.35,.4,.45,.45,.5,.55]
I_blocks = [(398,455,435,483,.3),(410,438,445,470,.5),(520,722,570,715,.1),(580,722,610,715,.12),(640,722,650,715,.15),(400,722,692,700,.18),(540,722,700,715,.28),
            (860,915,820,880,.15),(940,1000,890,950,.15),(955,985,910,940,.25),(1080,1112,690,715,.12),(560,722,1045,1052,.12),(1130,1190,1080,1120,.08),(400,1432,875,880,.1),
            (460,722,885,960,.04),(720,1000,490,540,.04),(400,1432,1255,1270,.08)]
I_cmap = LSC.from_list('i', [(0,'#6d1f4a'),(.25,'#a92b2b'),(.5,'#d8501f'),(.75,'#f9a635'),(1,'#fff1b5')])
mat = np.zeros((896, 1034))
for r in range(896):
    mat[r] += I_row[min(r//18, len(I_row)-1)]*.68
for c in range(1034):
    mat[:, c] += I_col[min(c//19, len(I_col)-1)]*.68
for x0, x1, y0, y1, v in I_blocks:
    mat[y0-432:y1-432, x0-398:x1-398] += v
ax = A(1384, 1264, 1759, 1563, off=True)
ax.imshow(mat, cmap=I_cmap, vmin=0, vmax=1, aspect='auto', interpolation='antialiased', extent=(398, 1432, 1328, 432))
ax.vlines(np.arange(398, 1432, 8.2), 432, 1328, color='#4a1040', lw=.7, alpha=.35)
ax.hlines(np.arange(432, 1328, 9), 398, 1432, color='#4a1040', lw=.7, alpha=.35)
ax.plot([398, 1432], [432, 1328], color='#fff6e0', lw=1.0)
ax.set_xlim(398, 1432); ax.set_ylim(1328, 432)

I_top_spine_x = [400,650,900,1100,1300,1420,1430]
I_top_spine_h = [88,95,103,110,130,165,250]
I_top_drop_x = [420,428,448,548,687,717,765,908,972,1108,1357,1390,1428]
I_top_drop_a = [100,350,110,100,190,220,100,150,190,150,190,190,225]
I_top_drop_b = [350,375,335,315,265,298,200,218,255,180,232,245,252]
I_comb = [(455,500,92,118,0),(560,690,100,160,1),(725,750,97,130,0),(800,905,103,160,1),(915,1000,110,150,0),(1005,1110,105,132,0),(1115,1185,112,140,0),(1190,1280,120,150,0),(1285,1350,135,160,0)]
ax = A(1384, 1148, 1759, 1246, off=True)
ax.set_xlim(398, 1432); ax.set_ylim(378, 85)
ax.plot(I_top_spine_x, I_top_spine_h, color='#333333', lw=1)
ax.vlines(I_top_drop_x, I_top_drop_a, I_top_drop_b, color='#555555', lw=1)
for x, a, b in zip(I_top_drop_x, I_top_drop_a, I_top_drop_b):
    ax.plot([x, x], [b-(b-a)*.2-10, b], color='#8a8a8a', lw=2.4, solid_capstyle='butt')
for a, b, c, d, drop in I_comb:
    xs = np.arange(a, b, 7)
    t0 = np.interp(xs, [a, b], [c, c+(d-c)*.6 if drop else c+3])
    ax.vlines(xs, t0, t0+(d-c)*(.7 if not drop else .45), color='#a8a8a8', lw=1.2)
    ax.plot(xs, t0, color='#444444', lw=.7)
for a, b in [(400,420),(405,415),(432,445),(540,550),(680,695),(710,720),(900,915),(965,978),(1350,1362),(1380,1395),(1420,1432)]:
    ax.plot([a, a, b, b], [150, 120, 120, 150], color='#666666', lw=.7)
I_left_spine_x = [90,94,100,105,125,150]
I_left_spine_y = [435,560,800,1000,1200,1320]
I_left_drop_y = [458,478,564,712,683,751,874,930,1048,1262,1320,1290]
I_left_drop_a = [95,100,95,150,155,105,120,140,125,150,155,160]
I_left_drop_b = [330,300,285,270,240,185,200,232,170,215,228,222]
I_left_comb = [(485,560,92,122),(570,680,100,150),(720,850,100,135),(880,950,105,150),(960,1040,105,128),(1060,1120,110,140),(1120,1250,125,155),(1255,1320,150,200)]
ax = A(1273, 1264, 1362, 1563, off=True)
ax.set_xlim(88, 336); ax.set_ylim(1328, 432)
ax.plot(I_left_spine_x, I_left_spine_y, color='#333333', lw=1)
ax.hlines(I_left_drop_y, I_left_drop_a, I_left_drop_b, color='#777777', lw=.9)
for y, a, b in zip(I_left_drop_y, I_left_drop_a, I_left_drop_b):
    ax.plot([b-(b-a)*.2, b], [y, y], color='#a0a0a0', lw=2.2, solid_capstyle='butt')
for a, b, c, d in I_left_comb:
    ys = np.arange(a, b, 8)
    ax.hlines(ys, c, d, color='#b0b0b0', lw=1.0)
title(1568, 1094, 'Network heatmap plot, selected genes')

fig.savefig('out.png', dpi=100, facecolor='white')
